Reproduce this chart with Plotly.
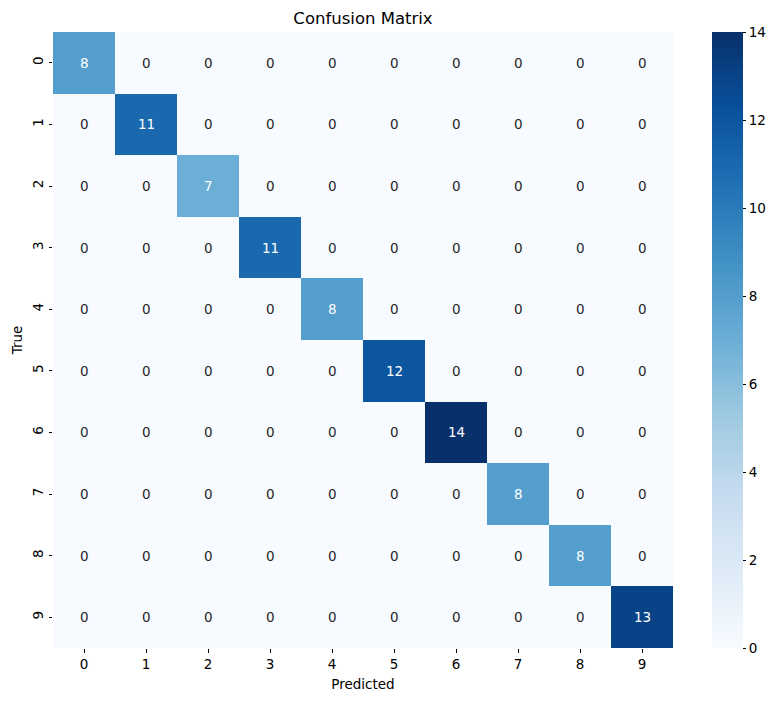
import plotly.graph_objects as go

labels = ["0", "1", "2", "3", "4", "5", "6", "7", "8", "9"]
diag_values = [8, 11, 7, 11, 8, 12, 14, 8, 8, 13]
matrix = [[diag_values[i] if i == j else 0 for j in range(10)] for i in range(10)]

blues = ["#f7fbff", "#deebf7", "#c6dbef", "#9ecae1", "#6baed6",
         "#4292c6", "#2171b5", "#08519c", "#08306b"]
colorscale = [[i / 8, c] for i, c in enumerate(blues)]

vmin, vmax = 0, 14
W, H = 780, 701
L, R, T, B = 53, 673, 32, 648

def hex2rgb(h):
    h = h.lstrip("#")
    return [int(h[k:k + 2], 16) / 255 for k in (0, 2, 4)]

def cmap(v):
    t = (v - vmin) / (vmax - vmin) * 8
    i = min(int(t), 7)
    f = t - i
    a, b = hex2rgb(blues[i]), hex2rgb(blues[i + 1])
    return [a[k] + (b[k] - a[k]) * f for k in range(3)]

def lum(rgb):
    out = []
    for c in rgb:
        out.append(c / 12.92 if c <= 0.03928 else ((c + 0.055) / 1.055) ** 2.4)
    return 0.2126 * out[0] + 0.7152 * out[1] + 0.0722 * out[2]

font = "DejaVu Sans"
fig = go.Figure(go.Heatmap(
    z=matrix, x=labels, y=labels,
    colorscale=colorscale, zmin=vmin, zmax=vmax,
    colorbar=dict(
        x=(712 - L) / (R - L), xanchor="left", xpad=0,
        thickness=31, thicknessmode="pixels",
        len=1, lenmode="fraction", y=0.5, yanchor="middle", ypad=0,
        outlinewidth=0,
        tickvals=list(range(0, 15, 2)),
        ticks="outside", ticklen=3.5, tickwidth=0.8, tickcolor="#000",
        tickfont=dict(family=font, size=13.5, color="#000"),
    ),
    hoverinfo="skip",
))

annotations = []
for i, row_lab in enumerate(labels):
    for j, col_lab in enumerate(labels):
        v = matrix[i][j]
        color = "#262626" if lum(cmap(v)) > 0.408 else "#ffffff"
        annotations.append(dict(x=col_lab, y=row_lab, text=str(v), showarrow=False,
                                font=dict(family=font, size=13.5, color=color)))

fig.update_layout(
    width=W, height=H,
    margin=dict(l=L, r=W - R, t=T, b=H - B),
    paper_bgcolor="white", plot_bgcolor="white",
    annotations=annotations,
    title=dict(text="Confusion Matrix", x=(L + R) / 2 / W, xref="container", xanchor="center",
               y=1 - 18 / H, yref="container", yanchor="middle",
               font=dict(family=font, size=16.5, color="#000")),
    xaxis=dict(type="category", ticks="outside", ticklen=3.5, tickwidth=0.8, tickcolor="#000",
               showgrid=False, zeroline=False, showline=False,
               tickfont=dict(family=font, size=13.5, color="#000"),
               title=dict(text="Predicted", font=dict(family=font, size=13.5, color="#000"), standoff=8)),
    yaxis=dict(type="category", autorange="reversed", ticks="outside", ticklen=3.5, tickwidth=0.8,
               tickcolor="#000", tickangle=-90,
               showgrid=False, zeroline=False, showline=False,
               tickfont=dict(family=font, size=13.5, color="#000"),
               title=dict(text="True", font=dict(family=font, size=13.5, color="#000"), standoff=4)),
)
fig.write_html("out.html", config={"displayModeBar": False},
               post_script="document.body.style.margin='0';")
